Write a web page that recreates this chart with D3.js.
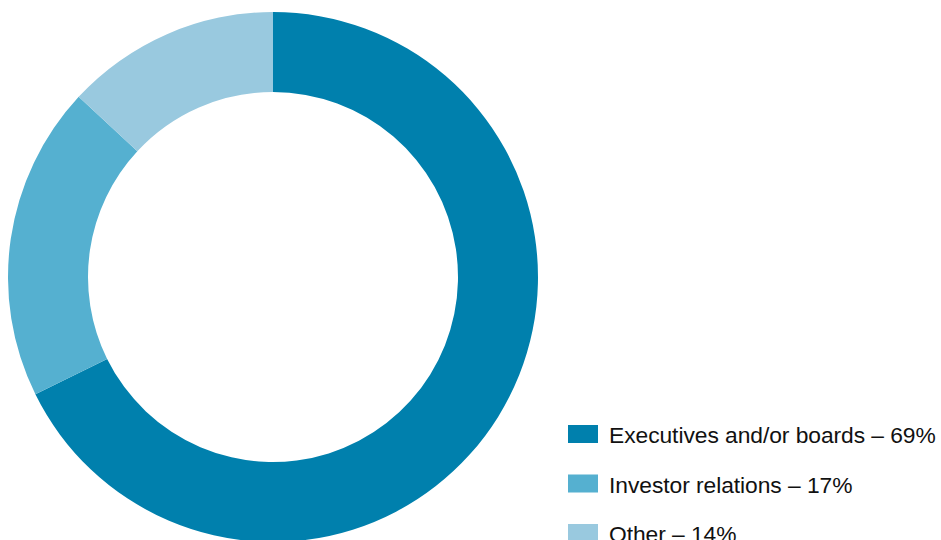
<!DOCTYPE html>
<html><head><meta charset="utf-8">
<script src="https://cdn.jsdelivr.net/npm/d3@7"></script>
<style>html,body{margin:0;padding:0;background:#fff;overflow:hidden}</style>
</head><body>
<svg id="chart" width="941" height="540"></svg>
<script>
const categories = ["Executives and/or boards", "Investor relations", "Other"];
const values = [67.7, 19.2, 13.1];
const labels = ["Executives and/or boards – 69%", "Investor relations – 17%", "Other – 14%"];
const colors = ["#0080ad", "#55b0d0", "#99c9df"];

const svg = d3.select("#chart");
const cx = 273, cy = 277, rOuter = 265, rInner = 185;
const pie = d3.pie().sort(null).value(d => d)(values);
const arc = d3.arc().innerRadius(rInner).outerRadius(rOuter);
const color = d3.scaleOrdinal().domain(categories).range(colors);

svg.append("g").attr("transform", `translate(${cx},${cy})`)
  .selectAll("path").data(pie).enter().append("path")
  .attr("d", arc).attr("fill", (d, i) => color(categories[i]));

const y = d3.scaleBand().domain(categories).range([425, 425 + 3 * 49.5]);
const lg = svg.append("g");
const item = lg.selectAll("g").data(categories).enter().append("g")
  .attr("transform", d => `translate(568,${y(d)})`);
item.append("rect").attr("width", 30).attr("height", 18).attr("fill", d => color(d));
item.append("text").attr("x", 41).attr("y", 18)
  .attr("font-family", "Liberation Sans, Arial, sans-serif").attr("font-size", 22.8)
  .attr("letter-spacing", -0.05).attr("fill", "#111")
  .text((d, i) => labels[i]);
</script>
</body></html>
